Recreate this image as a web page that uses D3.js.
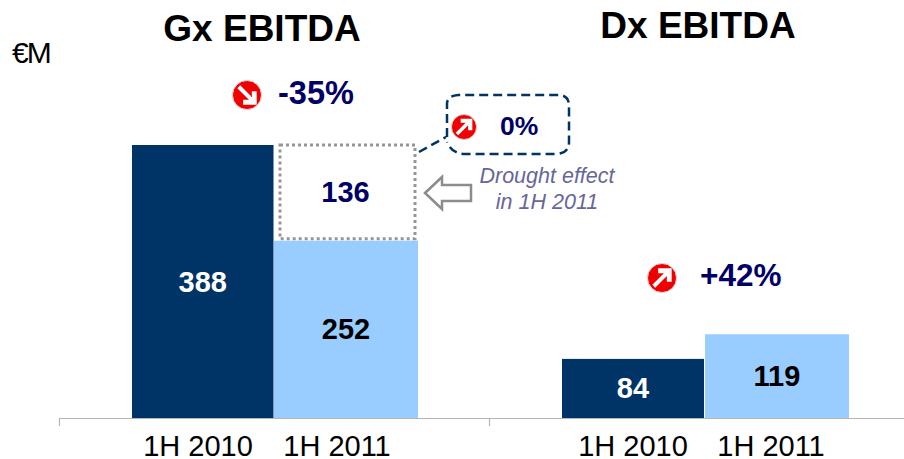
<!DOCTYPE html>
<html>
<head>
<meta charset="utf-8">
<script src="https://cdn.jsdelivr.net/npm/d3@7/dist/d3.min.js"></script>
<style>
html,body{margin:0;padding:0;background:#fff}
svg{display:block}
text{font-family:"Liberation Sans",Arial,sans-serif}
</style>
</head>
<body>
<svg id="c" width="904" height="459"></svg>
<script>
const periods = ["1H 2010", "1H 2011"];
const gxBase = [388, 252];
const gxDrought = 136;
const dxBase = [84, 119];
const titles = ["Gx EBITDA", "Dx EBITDA"];
const unitLabel = "€M";
const gxChange = "-35%";
const droughtChange = "0%";
const dxChange = "+42%";
const droughtNote = ["Drought effect", "in 1H 2011"];

const NAVY = "#003366", LIGHT = "#99CCFF", INK = "#000066";
const svg = d3.select("#c");
const y = d3.scaleLinear().domain([0, 388]).range([418, 145]);
const xGx = d3.scaleBand().domain(periods).range([132, 415]);
const xDx = d3.scaleBand().domain(periods).range([562, 846]);
const labelGx = d3.scalePoint().domain(periods).range([198, 337]);
const labelDx = d3.scalePoint().domain(periods).range([633, 771]);
const fill = d => d === periods[0] ? NAVY : LIGHT;

function bars(x, vals) {
  const g = svg.append("g");
  const left = d => d === periods[1] ? Math.floor(x(d)) + 1 : x(d);
  const wid = d => d === periods[1] ? 144 : x.bandwidth();
  g.selectAll("rect").data(periods).join("rect")
    .attr("x", left)
    .attr("width", wid)
    .attr("y", (d, i) => y(vals[i]))
    .attr("height", (d, i) => y(0) - y(vals[i]))
    .attr("fill", fill);
  g.selectAll("text").data(periods).join("text")
    .attr("x", d => left(d) + wid(d) / 2)
    .attr("y", (d, i) => (y(vals[i]) + y(0)) / 2 + 10)
    .attr("text-anchor", "middle")
    .attr("font-size", 29).attr("font-weight", "bold")
    .attr("fill", (d, i) => i === 0 ? "#fff" : "#000")
    .text((d, i) => vals[i]);
}
bars(xGx, gxBase);
bars(xDx, dxBase);

// Drought box stacked on 1H 2011
svg.append("rect")
  .attr("x", 280).attr("width", 135)
  .attr("y", y(gxBase[1] + gxDrought)).attr("height", y(gxBase[1]) - y(gxBase[1] + gxDrought) - 2)
  .attr("fill", "#fff").attr("stroke", "#969696").attr("stroke-width", 3).attr("stroke-dasharray", "3 3");
svg.append("text")
  .attr("x", 345.5).attr("y", 202).attr("text-anchor", "middle")
  .attr("font-size", 29).attr("font-weight", "bold").attr("fill", INK).text(gxDrought);

// Axis baseline + ticks
const axisScale = d3.scaleLinear().domain([0, 2]).range([59, 919]);
const axisG = svg.append("g").attr("transform", "translate(0,418)")
  .call(d3.axisBottom(axisScale).tickValues([0, 1, 2]).tickSize(8).tickSizeOuter(0).tickFormat(""));
axisG.selectAll("path,line").attr("stroke", "#b4b4b4").attr("stroke-width", 1.2);

// Period labels
[labelGx, labelDx].forEach(s => {
  svg.append("g").selectAll("text").data(periods).join("text")
    .attr("x", d => s(d)).attr("y", 456).attr("text-anchor", "middle")
    .attr("font-size", 29).attr("fill", "#000").text(d => d);
});

// Titles
svg.append("text").attr("x", 262).attr("y", 41).attr("text-anchor", "middle")
  .attr("font-size", 37).attr("font-weight", "bold").attr("fill", "#000").text(titles[0]);
svg.append("text").attr("x", 698).attr("y", 38).attr("text-anchor", "middle")
  .attr("font-size", 37).attr("font-weight", "bold").attr("fill", "#000").text(titles[1]);
svg.append("text").attr("x", 12).attr("y", 63).attr("font-size", 30)
  .attr("letter-spacing", -2).attr("fill", "#000").text(unitLabel);

// Trend badges
function badge(cx, cy, r, up) {
  const g = svg.append("g").attr("transform", `translate(${cx},${cy}) scale(${r / 15}) rotate(${up ? 0 : 90})`);
  g.append("circle").attr("r", 15).attr("fill", "#f00000").attr("stroke", "#ddd").attr("stroke-width", 1);
  g.append("path").attr("d", "M-10,7 L2,-5 L-4,-5 L-4,-10 L10,-10 L10,4 L5,4 L5,-2 L-7,10 Z").attr("fill", "#fff");
}
badge(247, 95, 14.5, false);
badge(464, 127, 12.5, true);
badge(662, 278, 14.5, true);

const pct = (x, yy, t, size) => svg.append("text").attr("x", x).attr("y", yy)
  .attr("font-size", size).attr("font-weight", "bold").attr("fill", INK).text(t);
pct(278, 104, gxChange, 32.5);
pct(500, 135, droughtChange, 26.5);
pct(700, 286, dxChange, 31.5);

// Dashed callout
svg.append("path")
  .attr("d", "M419,152 L446,137 M447,137 L447,104 Q447,96 458,95 L558,95 Q570,95 569,108 L569,142 Q569,154 555,154 L465,154 Q452,154 447,142")
  .attr("fill", "none").attr("stroke", NAVY).attr("stroke-width", 2.5).attr("stroke-dasharray", "9 5");

// Hollow arrow
svg.append("path")
  .attr("d", "M425,193 L442,177 L442,185 L471,185 L471,201 L442,201 L442,209 Z")
  .attr("fill", "#fff").attr("stroke", "#8c8c8c").attr("stroke-width", 2.5);

// Note
svg.append("g").selectAll("text").data(droughtNote).join("text")
  .attr("x", 547).attr("y", (d, i) => 183 + i * 26).attr("text-anchor", "middle")
  .attr("font-size", 21.5).attr("font-style", "italic").attr("fill", "#666699").text(d => d);
</script>
</body>
</html>
